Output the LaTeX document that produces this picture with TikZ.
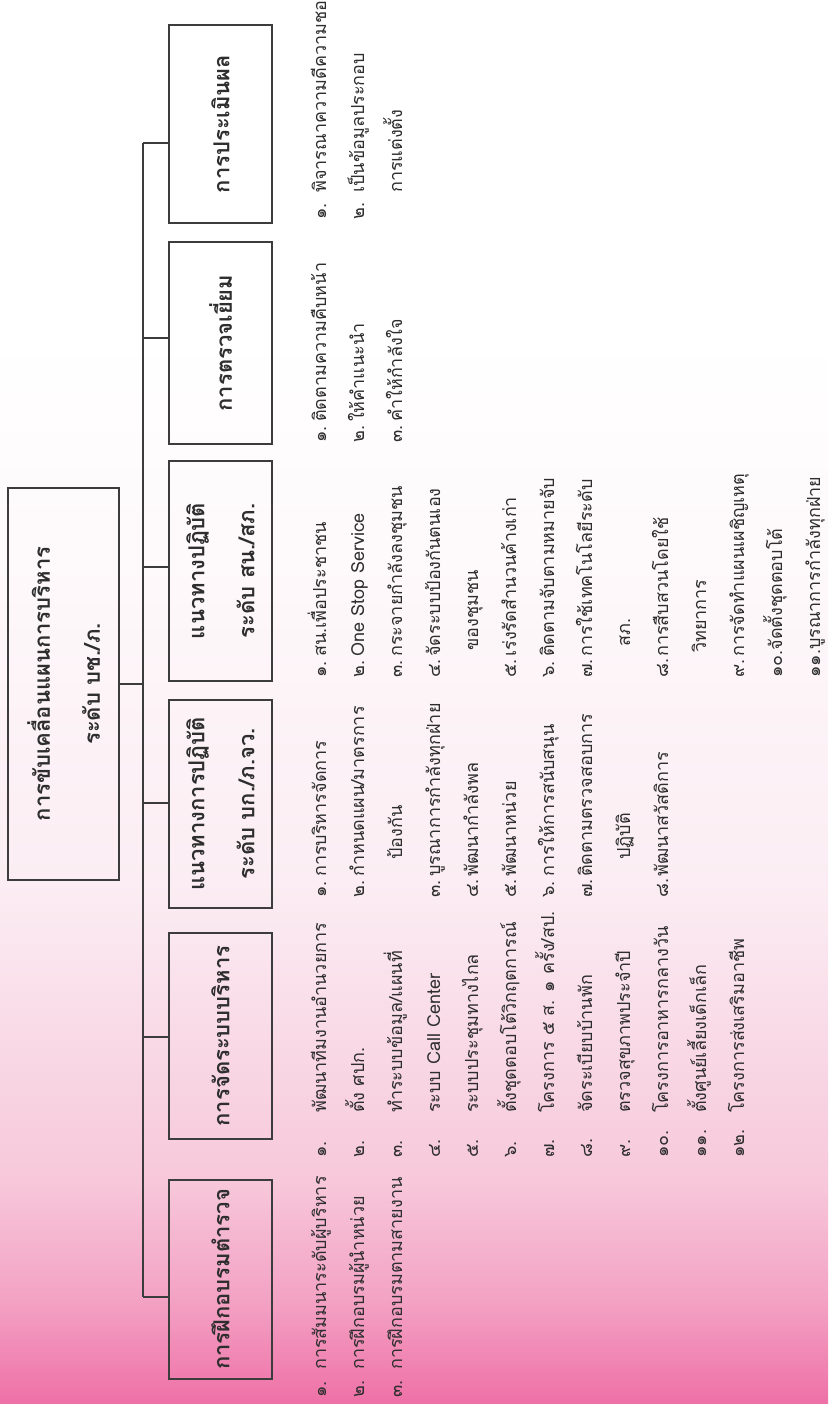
\documentclass[tikz,border=0pt]{standalone}
\usepackage{fontspec}
\newfontfamily\thaifont[Script=Thai]{Loma}
\usetikzlibrary{calc}

\definecolor{linegray}{HTML}{3C3C3C}
\definecolor{textgray}{HTML}{2E2E2E}
\definecolor{pinkdeep}{HTML}{EE70A6}
\definecolor{pinkmid}{HTML}{F3A2C4}
\definecolor{pinksoft}{HTML}{F7C8DA}
\definecolor{pinklight}{HTML}{FBEDF3}
\definecolor{pinkpale}{HTML}{FEF9FB}

% page background, deep pink at the foot fading to white
\pgfdeclareverticalshading{pagefade}{100bp}{color(0bp)=(pinkdeep); color(25bp)=(pinkdeep);
  color(28.7bp)=(pinkmid); color(33bp)=(pinksoft); color(43.5bp)=(pinklight);
  color(55bp)=(pinkpale); color(63bp)=(white); color(100bp)=(white)}

\tikzset{
  wire/.style={draw=linegray, line width=1.1pt},
  headbox/.style={draw=linegray, line width=1.1pt, rotate=90, inner sep=0pt,
    minimum height=103, align=center, text=textgray,
    font=\thaifont\bfseries\fontsize{22}{50}\selectfont},
  itemlist/.style={rotate=90, anchor=base west, inner sep=0pt, text=textgray,
    font=\thaifont\fontsize{18}{38}\selectfont}
}

\begin{document}
\begin{tikzpicture}[x=1pt, y=-1pt]
  \useasboundingbox (0,0) rectangle (828,1404);
  \shade[shading=pagefade] (0,0) rectangle (828,1404);

  % top of the chart
  \node [headbox, minimum height=111, minimum width=392] (main) at (63.5,684)
    {การขับเคลื่อนแผนการบริหาร\\ระดับ บช./ภ.};

  % the six branches
  \node [headbox, minimum width=198] (eval)  at (220.5,124)    {การประเมินผล};
  \node [headbox, minimum width=202] (visit) at (220.5,343)    {การตรวจเยี่ยม};
  \node [headbox, minimum width=220] (stn)   at (220.5,571)    {แนวทางปฏิบัติ\\ระดับ สน./สภ.};
  \node [headbox, minimum width=208] (div)   at (220.5,804)    {แนวทางการปฏิบัติ\\ระดับ บก./ภ.จว.};
  \node [headbox, minimum width=206] (adm)   at (220.5,1036)   {การจัดระบบบริหาร};
  \node [headbox, minimum width=199] (train) at (220.5,1279.5) {การฝึกอบรมตำรวจ};

  % bus line and its joints
  \coordinate (bus top) at (143,143);
  \coordinate (bus bot) at (143,1297);
  \coordinate (j2) at (143,338);
  \coordinate (j3) at (143,567);
  \coordinate (j4) at (143,803);
  \coordinate (j5) at (143,1037);

  \draw [wire] (bus top) -- (bus bot);
  \draw [wire] (main.south) -- (main.south -| bus top);
  \draw [wire] (bus top) -- (bus top -| eval.north);
  \draw [wire] (j2) -- (j2 -| visit.north);
  \draw [wire] (j3) -- (j3 -| stn.north);
  \draw [wire] (j4) -- (j4 -| div.north);
  \draw [wire] (j5) -- (j5 -| adm.north);
  \draw [wire] (bus bot) -- (bus bot -| train.north);

  % lists under each branch
  \node [itemlist] (eval list) at (326,220) {\begin{tabular}[t]{@{}p{27pt}@{}l@{}}
    ๑. & พิจารณาความดีความชอบ\\
    ๒. & เป็นข้อมูลประกอบ\\
       & การแต่งตั้ง
  \end{tabular}};

  \node [itemlist] (visit list) at (326,443) {\begin{tabular}[t]{@{}p{21pt}@{}l@{}}
    ๑. & ติดตามความคืบหน้า\\
    ๒. & ให้คำแนะนำ\\
    ๓. & คำให้กำลังใจ
  \end{tabular}};

  \node [itemlist] (stn list) at (326,678) {\begin{tabular}[t]{@{}p{21pt}@{}l@{}}
    ๑. & สน.เพื่อประชาชน\\
    ๒. & One Stop Service\\
    ๓. & กระจายกำลังลงชุมชน\\
    ๔. & จัดระบบป้องกันตนเอง\\
       & \hspace{6pt}ของชุมชน\\
    ๕. & เร่งรัดสำนวนค้างเก่า\\
    ๖. & ติดตามจับตามหมายจับ\\
    ๗. & การใช้เทคโนโลยีระดับ\\
       & \hspace{10pt}สภ.\\
    ๘. & การสืบสวนโดยใช้\\
       & \hspace{4pt}วิทยาการ\\
    ๙. & การจัดทำแผนเผชิญเหตุ\\
    \multicolumn{2}{@{}l@{}}{๑๐.จัดตั้งชุดตอบโต้}\\
    \multicolumn{2}{@{}l@{}}{๑๑.บูรณาการกำลังทุกฝ่าย}
  \end{tabular}};

  \node [itemlist] (div list) at (326,898) {\begin{tabular}[t]{@{}p{21pt}@{}l@{}}
    ๑. & การบริหารจัดการ\\
    ๒. & กำหนดแผน/มาตรการ\\
       & \hspace{17pt}ป้องกัน\\
    ๓. & บูรณาการกำลังทุกฝ่าย\\
    ๔. & พัฒนากำลังพล\\
    ๕. & พัฒนาหน่วย\\
    ๖. & การให้การสนับสนุน\\
    ๗. & ติดตามตรวจสอบการ\\
       & \hspace{17pt}ปฏิบัติ\\
    ๘. & พัฒนาสวัสดิการ
  \end{tabular}};

  \node [itemlist] (adm list) at (326,1158) {\begin{tabular}[t]{@{}p{45pt}@{}l@{}}
    ๑. & พัฒนาทีมงานอำนวยการ\\
    ๒. & ตั้ง ศปก.\\
    ๓. & ทำระบบข้อมูล/แผนที่\\
    ๔. & ระบบ Call Center\\
    ๕. & ระบบประชุมทางไกล\\
    ๖. & ตั้งชุดตอบโต้วิกฤตการณ์\\
    ๗. & โครงการ ๕ ส. ๑ ครั้ง/สป.\\
    ๘. & จัดระเบียบบ้านพัก\\
    ๙. & ตรวจสุขภาพประจำปี\\
    ๑๐. & โครงการอาหารกลางวัน\\
    ๑๑. & ตั้งศูนย์เลี้ยงเด็กเล็ก\\
    ๑๒. & โครงการส่งเสริมอาชีพ
  \end{tabular}};

  \node [itemlist] (train list) at (326,1398) {\begin{tabular}[t]{@{}p{28pt}@{}l@{}}
    ๑. & การสัมมนาระดับผู้บริหาร\\
    ๒. & การฝึกอบรมผู้นำหน่วย\\
    ๓. & การฝึกอบรมตามสายงาน
  \end{tabular}};
\end{tikzpicture}
\end{document}
